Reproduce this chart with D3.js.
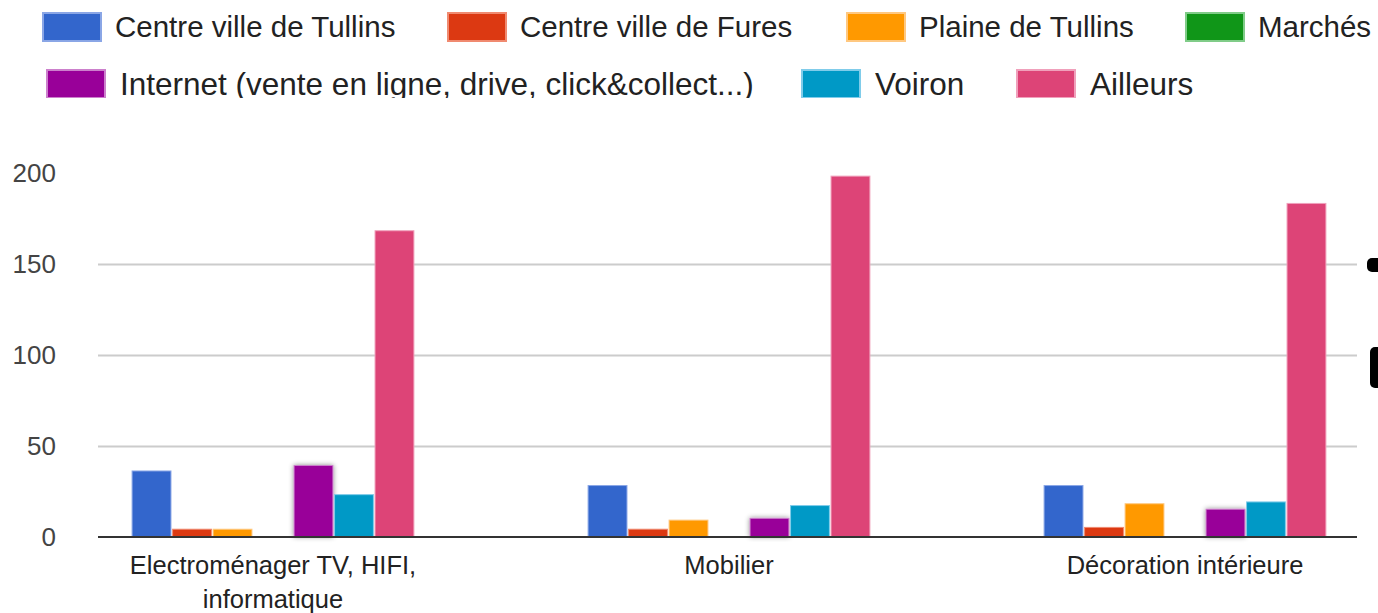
<!DOCTYPE html>
<html>
<head>
<meta charset="utf-8">
<script src="https://cdn.jsdelivr.net/npm/d3@7"></script>
<style>
  body { margin:0; background:#fff; }
  svg { display:block; font-family:"Liberation Sans", Arial, sans-serif; }
</style>
</head>
<body>
<script>
// data

var categories = [["Electroménager TV, HIFI,", "informatique"], ["Mobilier"], ["Décoration intérieure"]];
var series = ["Centre ville de Tullins", "Centre ville de Fures", "Plaine de Tullins", "Marchés",
              "Internet (vente en ligne, drive, click&collect...)", "Voiron", "Ailleurs"];
var colors = ["#3366cc", "#dc3912", "#ff9900", "#109618", "#990099", "#0099c6", "#dd4477"];
var strokes = ["#8aa6e6", "#f08a70", "#ffc880", "#80cc88", "#cc80cc", "#80ccea", "#f0a0bb"];

// one array per category, in series order
var electro = [36, 4, 4, 0, 39, 23, 168];
var mobilier = [28, 4, 9, 0, 10, 17, 198];
var deco = [28, 5, 18, 0, 15, 19, 183];
var values = [electro, mobilier, deco];

var yTicks = [0, 50, 100, 150, 200];

var width = 1378, height = 613;

var svg = d3.select("body").append("svg")
    .attr("width", width)
    .attr("height", height);

var defs = svg.append("defs");
var shadow = defs.append("filter").attr("id", "glow")
    .attr("x", "-30%").attr("y", "-30%").attr("width", "160%").attr("height", "160%");
shadow.append("feDropShadow")
    .attr("dx", 0).attr("dy", 0).attr("stdDeviation", 2.5)
    .attr("flood-color", "#000").attr("flood-opacity", 0.45);

defs.append("clipPath").attr("id", "legclip")
    .append("rect").attr("x", 0).attr("y", 0).attr("width", width).attr("height", 98);

//scales
var catNames = categories.map(function(c){ return c.join(" "); });

var x0 = d3.scaleBand()
    .domain(catNames)
    .range([45, 1413]);

var x1 = d3.scaleBand()
    .domain(series)
    .range([x0.bandwidth() * 0.191, x0.bandwidth() * 0.809])
    .paddingInner(0.04);

var y = d3.scaleLinear()
    .domain([0, 200])
    .range([536.5, 172.5]);

// gridlines + y labels
var yAxis = d3.axisLeft(y)
    .tickValues(yTicks)
    .tickSize(0)
    .tickPadding(0);

var ag = svg.append("g")
    .attr("transform", "translate(56,0)")
    .call(yAxis);
ag.select(".domain").remove();
ag.selectAll("text")
    .style("font-size", "26px")
    .attr("fill", "#444")
    .attr("font-family", "Liberation Sans, Arial, sans-serif")
    .attr("dy", "0.36em");

svg.append("g").selectAll("line")
    .data(yTicks.filter(function(t){ return t > 0 && t < 200; }))
    .join("line")
    .attr("x1", 98).attr("x2", 1357)
    .attr("y1", function(d){ return Math.round(y(d)) + 0.5; })
    .attr("y2", function(d){ return Math.round(y(d)) + 0.5; })
    .attr("stroke", "#cccccc")
    .attr("stroke-width", 2);

// bars
var groups = svg.append("g").selectAll("g")
    .data(values)
    .join("g")
    .attr("transform", function(d, i){ return "translate(" + x0(catNames[i]) + ",0)"; });

groups.selectAll("rect")
    .data(function(d){ return d.map(function(v, j){ return {v: v, j: j}; }); })
    .join("rect")
    .filter(function(d){ return d.v > 0; })
    .attr("x", function(d){ return x1(series[d.j]); })
    .attr("y", function(d){ return y(d.v); })
    .attr("width", x1.bandwidth())
    .attr("height", function(d){ return y(0) - y(d.v); })
    .attr("fill", function(d){ return colors[d.j]; })
    .attr("stroke", function(d){ return strokes[d.j]; })
    .attr("stroke-width", 1)
    .attr("filter", function(d){ return d.j == 4 ? "url(#glow)" : null; });

// baseline
svg.append("line")
    .attr("x1", 98).attr("x2", 1357)
    .attr("y1", y(0) + 0.5).attr("y2", y(0) + 0.5)
    .attr("stroke", "#333")
    .attr("stroke-width", 2);

// category labels
var cl = svg.append("g").selectAll("text")
    .data(categories)
    .join("text")
    .attr("x", function(d, i){ return x0(catNames[i]) + x0.bandwidth() / 2; })
    .attr("y", 574)
    .attr("text-anchor", "middle")
    .style("font-size", "25.5px")
    .attr("fill", "#222");
cl.selectAll("tspan")
    .data(function(d){ return d; })
    .join("tspan")
    .attr("x", function(){ return d3.select(this.parentNode).attr("x"); })
    .attr("dy", function(d, i){ return i == 0 ? 0 : 34; })
    .text(function(d){ return d; });

// legend, two rows, second row is a bit bigger and cut at the bottom
// [x, y, font size, text baseline]
var legPos = [[42, 12, 29.5, 25], [447, 12, 29.5, 25], [846, 12, 29.5, 25], [1185, 12, 29.5, 25],
              [46, 69, 31.5, 26], [801, 69, 31.5, 26], [1016, 69, 31.5, 26]];

var leg = svg.append("g")
    .attr("clip-path", "url(#legclip)")
    .selectAll("g")
    .data(series)
    .join("g")
    .attr("transform", function(d, i){ return "translate(" + legPos[i][0] + "," + legPos[i][1] + ")"; });

leg.append("rect")
    .attr("x", 1).attr("y", 1)
    .attr("width", 58).attr("height", 28)
    .attr("fill", function(d, i){ return colors[i]; })
    .attr("stroke", function(d, i){ return strokes[i]; })
    .attr("stroke-width", 2);

leg.append("text")
    .attr("x", function(d, i){ return i < 4 ? 73 : 74; })
    .attr("y", function(d, i){ return legPos[i][3]; })
    .style("font-size", function(d, i){ return legPos[i][2] + "px"; })
    .attr("fill", "#222")
    .text(function(d){ return d; });

// cropped black marks at the right edge
svg.append("rect")
    .attr("x", 1367).attr("y", 258).attr("width", 20).attr("height", 14)
    .attr("rx", 5).attr("fill", "#000");
svg.append("rect")
    .attr("x", 1370).attr("y", 347).attr("width", 20).attr("height", 41)
    .attr("rx", 5).attr("fill", "#000");
</script>
</body>
</html>
